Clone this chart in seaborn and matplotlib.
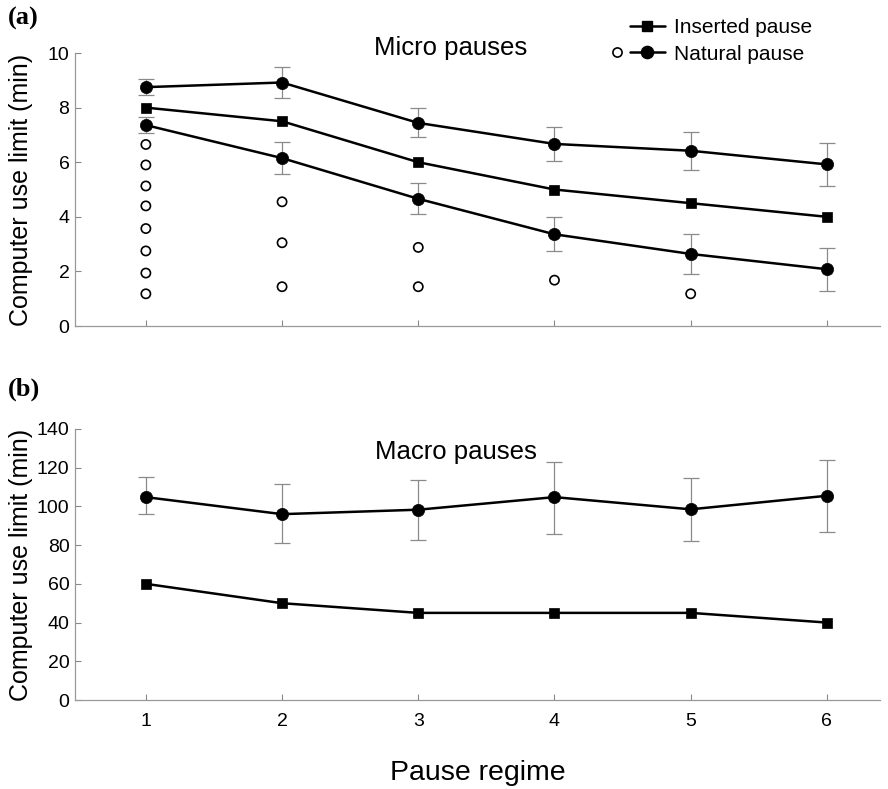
import numpy as np
import pandas as pd
import matplotlib
matplotlib.use("Agg")
import matplotlib.pyplot as plt
import seaborn as sns
from matplotlib.lines import Line2D
from matplotlib.legend_handler import HandlerLine2D

# ---------------- data ----------------
regimes = [1, 2, 3, 4, 5, 6]

# (a) micro pauses
micro_inserted = [8.0, 7.5, 6.0, 5.0, 4.5, 4.0]
micro_natural_hi = [8.75, 8.92, 7.44, 6.67, 6.42, 5.92]
micro_natural_hi_err = [0.30, 0.58, 0.53, 0.63, 0.70, 0.78]
micro_natural_lo = [7.36, 6.15, 4.66, 3.36, 2.64, 2.08]
micro_natural_lo_err = [0.30, 0.58, 0.57, 0.63, 0.73, 0.79]

# individual natural micro pauses (open circles)
open_regime = [1, 1, 1, 1, 1, 1, 1, 1, 2, 2, 2, 3, 3, 4, 5]
open_value = [6.65, 5.90, 5.13, 4.40, 3.57, 2.75, 1.94, 1.18,
              4.55, 3.05, 1.44, 2.88, 1.44, 1.68, 1.18]

# (b) macro pauses
macro_inserted = [60, 50, 45, 45, 45, 40]
macro_natural = [104.8, 96.0, 98.3, 104.8, 98.5, 105.5]
macro_natural_low = [96.2, 81.2, 82.7, 85.5, 82.0, 87.0]
macro_natural_high = [115.2, 111.5, 113.8, 123.0, 114.5, 124.0]

labels = ["Inserted pause", "Natural pause"]

# ---------------- style ----------------
sns.set_theme(style="ticks")
plt.rcParams["font.family"] = ["Liberation Sans", "DejaVu Sans"]
plt.rcParams["text.color"] = "black"
plt.rcParams["axes.labelcolor"] = "black"

fig = plt.figure(figsize=(8.88, 7.89), dpi=100)
ax1 = fig.add_axes([0.0845, 0.5868, 0.9065, 0.346])
ax2 = fig.add_axes([0.0845, 0.1128, 0.9065, 0.3435])

line_kw = dict(color="black", linewidth=1.8, markeredgecolor="black",
               markeredgewidth=0.5, legend=False)
err_kw = dict(fmt="none", ecolor="#8a8a8a", elinewidth=0.9, capsize=5.5,
              capthick=0.9, zorder=1)

# ---- panel (a)
ax1.errorbar(regimes, micro_natural_hi, yerr=micro_natural_hi_err, **err_kw)
ax1.errorbar(regimes, micro_natural_lo, yerr=micro_natural_lo_err, **err_kw)
sns.lineplot(x=regimes, y=micro_natural_hi, ax=ax1, marker="o", markersize=8.8, **line_kw)
sns.lineplot(x=regimes, y=micro_inserted, ax=ax1, marker="s", markersize=7.4, **line_kw)
sns.lineplot(x=regimes, y=micro_natural_lo, ax=ax1, marker="o", markersize=8.8, **line_kw)
sns.scatterplot(x=open_regime, y=open_value, ax=ax1, marker="o", s=44,
                facecolor="none", edgecolor="black", linewidth=1.2, legend=False)

# ---- panel (b)
macro_err = [np.array(macro_natural) - np.array(macro_natural_low),
             np.array(macro_natural_high) - np.array(macro_natural)]
ax2.errorbar(regimes, macro_natural, yerr=macro_err, **err_kw)
sns.lineplot(x=regimes, y=macro_natural, ax=ax2, marker="o", markersize=8.8, **line_kw)
sns.lineplot(x=regimes, y=macro_inserted, ax=ax2, marker="s", markersize=7.4, **line_kw)

for ax, top, step in [(ax1, 10, 2), (ax2, 140, 20)]:
    ax.set_xlim(0.48, 6.39)
    ax.set_ylim(0, top)
    ax.set_xticks(regimes)
    ax.set_yticks(np.arange(0, top + 1, step))
    sns.despine(ax=ax)
    for s in ["left", "bottom"]:
        ax.spines[s].set_color("#999999")
        ax.spines[s].set_linewidth(0.9)
    ax.tick_params(direction="in", length=4, width=0.8, color="#888888",
                   labelsize=14, labelcolor="black")
    ax.tick_params(axis="y", pad=4)
    ax.tick_params(axis="x", pad=9)
    ax.set_ylabel("Computer use limit (min)", fontsize=18)
    ax.yaxis.set_label_coords(-0.052, 0.5)
    ax.set_xlabel("")

ax1.set_xticklabels([])
ax2.set_xticklabels([str(r) for r in regimes])
ax2.set_xlabel("Pause regime", fontsize=20.5, labelpad=22)

ax1.text(0.466, 1.018, "Micro pauses", transform=ax1.transAxes, fontsize=18.5,
         ha="center", va="center")
ax2.text(0.473, 0.915, "Macro pauses", transform=ax2.transAxes, fontsize=18.5,
         ha="center", va="center")

fig.text(0.009, 0.976, "(a)", family=["Liberation Serif"], fontweight="bold",
         fontsize=19, ha="left", va="center")
fig.text(0.009, 0.507, "(b)", family=["Liberation Serif"], fontweight="bold",
         fontsize=19, ha="left", va="center")


# ---- legend
class HandlerNatural(HandlerLine2D):
    def create_artists(self, legend, orig_handle, xdescent, ydescent,
                       width, height, fontsize, trans):
        artists = super().create_artists(legend, orig_handle, xdescent, ydescent,
                                         width, height, fontsize, trans)
        y = height / 2.0 - ydescent
        oc = Line2D([-xdescent - 0.62 * fontsize], [y], linestyle="none",
                    marker="o", markersize=6.6, markerfacecolor="none",
                    markeredgecolor="black", markeredgewidth=1.2)
        oc.set_transform(trans)
        return artists + [oc]


h_ins = Line2D([], [], color="black", linewidth=1.8, marker="s", markersize=7.4,
               markeredgecolor="black")
h_nat = Line2D([], [], color="black", linewidth=1.8, marker="o", markersize=8.8,
               markeredgecolor="black")
fig.legend([h_ins, h_nat], labels, loc="upper left",
           bbox_to_anchor=(0.709, 0.977), frameon=False, fontsize=15,
           handlelength=1.7, handletextpad=0.45, labelspacing=0.36,
           borderpad=0, borderaxespad=0,
           handler_map={h_nat: HandlerNatural()})

fig.savefig("out.png", dpi=100)
